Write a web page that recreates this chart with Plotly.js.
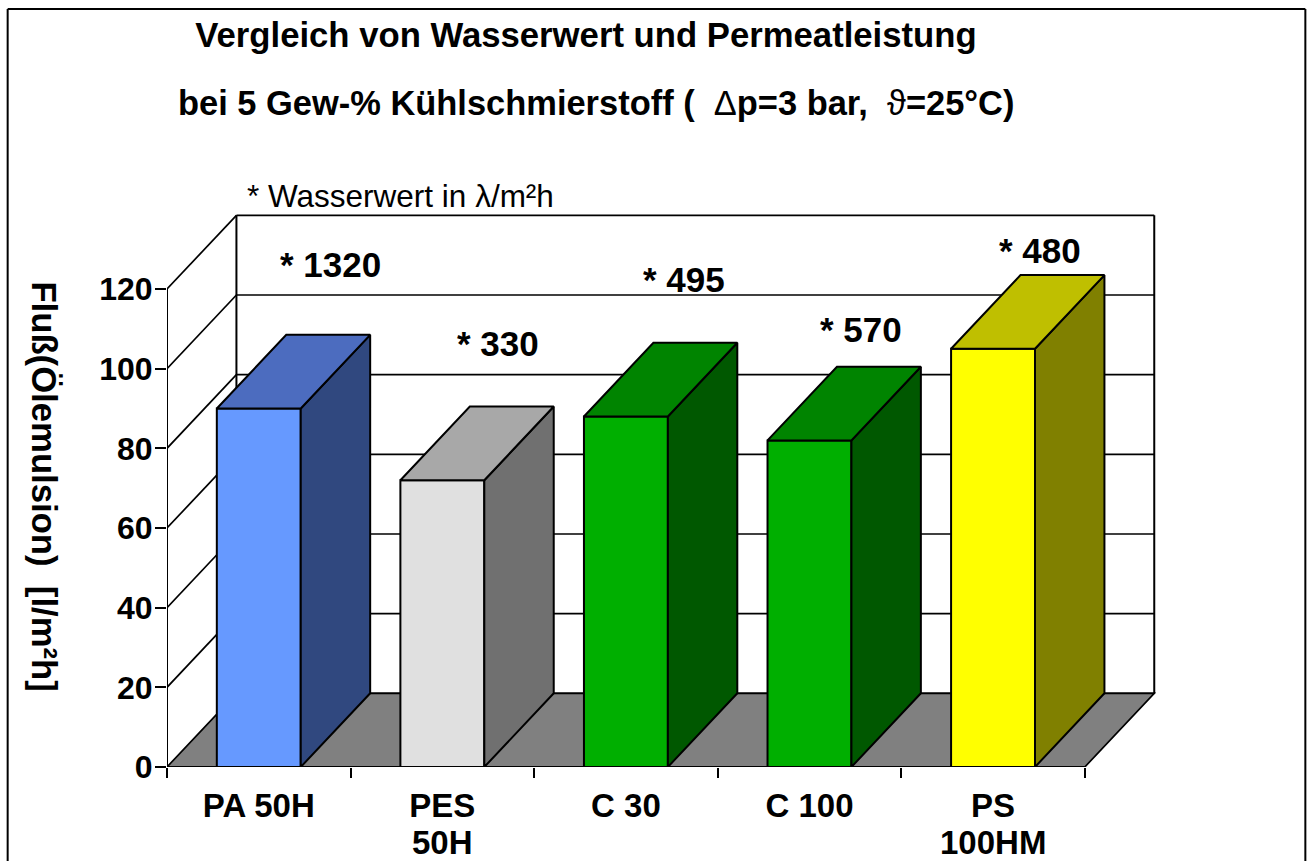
<!DOCTYPE html>
<html><head><meta charset="utf-8">
<script src="https://cdn.plot.ly/plotly-3.0.1.min.js"></script>
<style>html,body{margin:0;padding:0;background:#fff;overflow:hidden}</style>
</head><body><div id="chart" style="width:1307px;height:861px"></div>
<script>
// ---- data ----
const categories = ["PA 50H", "PES", "C 30", "C 100", "PS"];
const categoriesLine2 = ["", "50H", "", "", "100HM"];
const flux = [90, 72, 88, 82, 105];
const waterValues = ["* 1320", "* 330", "* 495", "* 570", "* 480"];
const yTicks = [0, 20, 40, 60, 80, 100, 120];
const frontColors = ["#6699FF", "#E0E0E0", "#00AF00", "#00AF00", "#FFFF00"];
const sideColors = ["#30487F", "#707070", "#005800", "#005800", "#808000"];
const topColors = ["#4C6CBF", "#A8A8A8", "#008400", "#008400", "#BFBF00"];
// ---- layout constants ----
const W = 1307, H = 861;
const L = 166.5, T = 213, PW = 992, PH = 554;
const Y0 = T + PH;
const catPx = 183.75, unitPx = 3.983;
const depthX = 69.5 / catPx, depthY = 73.7 / unitPx;
const barW = 84 / catPx;
const FONT = '"Liberation Sans", Arial, sans-serif';
const px = v => (v - L) / PW, py = v => (Y0 - v) / PH;
const labelPos = [[330, 264.5], [497.5, 343.5], [684, 279.5], [861.5, 329.5], [1040.5, 250.5]];

const n = categories.length;
const lineS = (x0, y0, x1, y1, w) => ({type: 'line', xref: 'x', yref: 'y', x0, y0, x1, y1, layer: 'below', line: {color: '#000', width: w || 1.7}});
const shapes = [];
yTicks.forEach(v => {
  if (v > 0) shapes.push(lineS(0, v, depthX, v + depthY));
  shapes.push(lineS(depthX, v + depthY, n + depthX, v + depthY));
});
shapes.push(lineS(depthX, depthY, depthX, 120 + depthY, 2));
shapes.push(lineS(n + depthX, depthY, n + depthX, 120 + depthY, 2));
shapes.push({type: 'path', xref: 'x', yref: 'y', layer: 'below',
  path: `M0,0 L${n},0 L${n + depthX},${depthY} L${depthX},${depthY} Z`,
  fillcolor: '#808080', line: {color: '#000', width: 1.7}});
[[7, H, 7, 9], [7, 9, 1306, 9], [1306, 9, 1306, H]].forEach(f => shapes.push({
  type: 'line', xref: 'paper', yref: 'paper', x0: px(f[0]), y0: py(f[1]), x1: px(f[2]), y1: py(f[3]),
  line: {color: '#000', width: 2}}));

const centers = categories.map((_, i) => i + 0.5);
const traces = [{
  type: 'bar', x: centers, y: flux, width: barW,
  marker: {color: frontColors, line: {color: '#000', width: 2}},
  hoverinfo: 'y', showlegend: false, cliponaxis: false
}];
flux.forEach((v, i) => {
  const a = centers[i] - barW / 2, b = centers[i] + barW / 2;
  traces.push({type: 'scatter', mode: 'lines', fill: 'toself', fillcolor: sideColors[i], showlegend: false, hoverinfo: 'skip',
    x: [b, b + depthX, b + depthX, b, b], y: [0, depthY, v + depthY, v, 0], line: {color: '#000', width: 2}});
  traces.push({type: 'scatter', mode: 'lines', fill: 'toself', fillcolor: topColors[i], showlegend: false, hoverinfo: 'skip',
    x: [a, a + depthX, b + depthX, b, a], y: [v, v + depthY, v + depthY, v, v], line: {color: '#000', width: 2}});
});
traces.push({type: 'scatter', mode: 'lines', x: [0, 0, n], y: [120, 0, 0], cliponaxis: false, showlegend: false, hoverinfo: 'skip', line: {color: '#000', width: 2}});

const ann = (x, y, text, size, extra) => Object.assign({xref: 'paper', yref: 'paper', x: px(x), y: py(y), text, showarrow: false,
  xanchor: 'center', yanchor: 'middle', font: {family: FONT, size, color: '#000'}}, extra || {});
const annotations = [
  ann(595.5, 103, "<b>bei 5 Gew-% Kühlschmierstoff (\u00A0\u00A0</b>\u0394<b>p=3 bar,\u00A0\u00A0</b>\u03D1<b>=25°C)</b>", 34.45),
  ann(400, 196, "* Wasserwert in \u03BB/m²h", 31.5),
  ann(43, 486, "<b>Fluß(Ölemulsion)\u00A0\u00A0[l/m²h]</b>", 34.7, {textangle: 90})
];
waterValues.forEach((t, i) => annotations.push(ann(labelPos[i][0], labelPos[i][1], `<b>${t}</b>`, 35)));
categoriesLine2.forEach((t, i) => { if (t) annotations.push({xref: 'x', yref: 'paper', x: centers[i], y: py(842), text: `<b>${t}</b>`, showarrow: false,
  xanchor: 'center', yanchor: 'middle', font: {family: FONT, size: 33, color: '#000'}}); });

Plotly.newPlot('chart', traces, {
  width: W, height: H, showlegend: false, bargap: 0,
  paper_bgcolor: '#fff', plot_bgcolor: '#fff',
  margin: {l: L, r: W - L - PW, t: T, b: H - T - PH, pad: 0},
  title: {text: "<b>Vergleich von Wasserwert und Permeatleistung</b>", x: 586 / W, xanchor: 'center', y: 1 - 35 / H, yanchor: 'middle',
    font: {family: FONT, size: 34.7, color: '#000'}},
  font: {family: FONT, color: '#000'},
  xaxis: {range: [0, PW / catPx], tickmode: 'array', tickvals: centers, ticktext: categories.map(c => `<b>${c}</b>`),
    ticks: '', showgrid: false, zeroline: false, showline: false, ticklabelstandoff: 16,
    tickfont: {family: FONT, size: 33, color: '#000'},
    minor: {tickmode: 'array', tickvals: [0, 1, 2, 3, 4, 5], ticks: 'outside', ticklen: 10, tickwidth: 2, tickcolor: '#000', showgrid: false}},
  yaxis: {range: [0, PH / unitPx], tickmode: 'array', tickvals: yTicks, ticktext: yTicks.map(v => `<b>${v}</b>`),
    ticks: 'outside', ticklen: 11, ticklabelstandoff: -4, tickwidth: 2, tickcolor: '#000', showgrid: false, zeroline: false, showline: false,
    tickfont: {family: FONT, size: 32, color: '#000'}},
  shapes, annotations
}, {displayModeBar: false, staticPlot: true});
</script></body></html>
